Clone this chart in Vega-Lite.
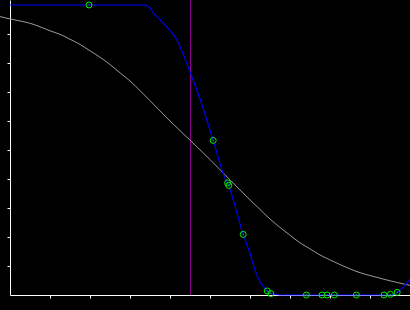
{
  "$schema": "https://vega.github.io/schema/vega-lite/v6.json",
  "width": 400,
  "height": 295,
  "autosize": {"type": "none"},
  "padding": {"left": 10, "top": 0, "right": 0, "bottom": 15},
  "background": "black",
  "config": {
    "view": {"stroke": null},
    "axis": {
      "domainColor": "white", "tickColor": "white", "labels": false, "title": null,
      "grid": false, "tickSize": 3, "domainWidth": 1, "tickWidth": 1
    }
  },
  "datasets": {
    "gray": [
      {"x": -0.25, "y": 0.960}, {"x": 0, "y": 0.952}, {"x": 0.25, "y": 0.945}, {"x": 0.5, "y": 0.937},
      {"x": 0.75, "y": 0.925}, {"x": 1, "y": 0.911}, {"x": 1.25, "y": 0.899}, {"x": 1.5, "y": 0.882},
      {"x": 1.75, "y": 0.864}, {"x": 2, "y": 0.842}, {"x": 2.25, "y": 0.820}, {"x": 2.5, "y": 0.795},
      {"x": 2.75, "y": 0.766}, {"x": 3, "y": 0.738}, {"x": 3.25, "y": 0.705}, {"x": 3.5, "y": 0.670},
      {"x": 4, "y": 0.600}, {"x": 4.5, "y": 0.534}, {"x": 5, "y": 0.467}, {"x": 5.5, "y": 0.397},
      {"x": 6, "y": 0.328}, {"x": 6.25, "y": 0.295}, {"x": 6.5, "y": 0.262}, {"x": 6.75, "y": 0.233},
      {"x": 7, "y": 0.206}, {"x": 7.25, "y": 0.180}, {"x": 7.5, "y": 0.159}, {"x": 7.75, "y": 0.138},
      {"x": 8, "y": 0.121}, {"x": 8.25, "y": 0.105}, {"x": 8.5, "y": 0.090}, {"x": 8.75, "y": 0.077},
      {"x": 9, "y": 0.067}, {"x": 9.25, "y": 0.058}, {"x": 9.5, "y": 0.049}, {"x": 9.75, "y": 0.041},
      {"x": 10, "y": 0.033}
    ],
    "blue": [
      {"x": 0, "y": 1.0}, {"x": 3.375, "y": 1.0}, {"x": 3.5, "y": 0.989}, {"x": 3.58, "y": 0.973},
      {"x": 3.75, "y": 0.950}, {"x": 4.0, "y": 0.912}, {"x": 4.17, "y": 0.880}, {"x": 4.33, "y": 0.830},
      {"x": 4.5, "y": 0.770}, {"x": 4.75, "y": 0.676}, {"x": 5.08, "y": 0.533}, {"x": 5.375, "y": 0.403},
      {"x": 5.45, "y": 0.383}, {"x": 5.58, "y": 0.328}, {"x": 5.83, "y": 0.209}, {"x": 6.0, "y": 0.144},
      {"x": 6.125, "y": 0.086}, {"x": 6.25, "y": 0.046}, {"x": 6.375, "y": 0.023}, {"x": 6.43, "y": 0.014},
      {"x": 6.54, "y": 0.005}, {"x": 6.75, "y": 0.0}, {"x": 9.55, "y": 0.0}, {"x": 9.68, "y": 0.009},
      {"x": 9.75, "y": 0.016}, {"x": 9.875, "y": 0.034}, {"x": 10, "y": 0.055}
    ],
    "obs": [
      {"x": 1.975, "y": 1.0}, {"x": 5.08, "y": 0.533}, {"x": 5.44, "y": 0.387}, {"x": 5.47, "y": 0.378},
      {"x": 5.83, "y": 0.209}, {"x": 6.43, "y": 0.014}, {"x": 6.52, "y": 0.0045}, {"x": 7.41, "y": 0.0},
      {"x": 7.8, "y": 0.0}, {"x": 7.925, "y": 0.0}, {"x": 8.11, "y": 0.0}, {"x": 8.66, "y": 0.0},
      {"x": 9.35, "y": 0.0}, {"x": 9.51, "y": 0.0024}, {"x": 9.68, "y": 0.009}
    ],
    "vline": [{"x": 4.5125}]
  },
  "encoding": {
    "x": {"field": "x", "type": "quantitative", "scale": {"domain": [0, 10], "nice": false, "zero": false},
          "axis": {"values": [1, 2, 3, 4, 5, 6, 7, 8, 9]}},
    "y": {"field": "y", "type": "quantitative", "scale": {"domain": [0, 1.01724], "nice": false, "zero": false},
          "axis": {"values": [0.1, 0.2, 0.3, 0.4, 0.5, 0.6, 0.7, 0.8, 0.9]}}
  },
  "layer": [
    {
      "data": {"name": "vline"},
      "mark": {"type": "rule", "color": "#8a008a", "strokeWidth": 1},
      "encoding": {"y": null}
    },
    {
      "data": {"name": "gray"},
      "mark": {"type": "line", "color": "#9a9a9a", "strokeWidth": 1, "clip": false, "interpolate": "monotone"}
    },
    {
      "data": {"name": "blue"},
      "mark": {"type": "line", "color": "#0000ff", "strokeWidth": 1.1, "interpolate": "monotone"}
    },
    {
      "data": {"name": "obs"},
      "mark": {"type": "point", "shape": "circle", "filled": false, "size": 36, "stroke": "#00ee00", "strokeWidth": 1, "opacity": 1}
    },
    {
      "data": {"name": "obs"},
      "mark": {"type": "point", "shape": "square", "filled": true, "size": 1.5, "color": "#00bb00", "opacity": 1}
    }
  ]
}
